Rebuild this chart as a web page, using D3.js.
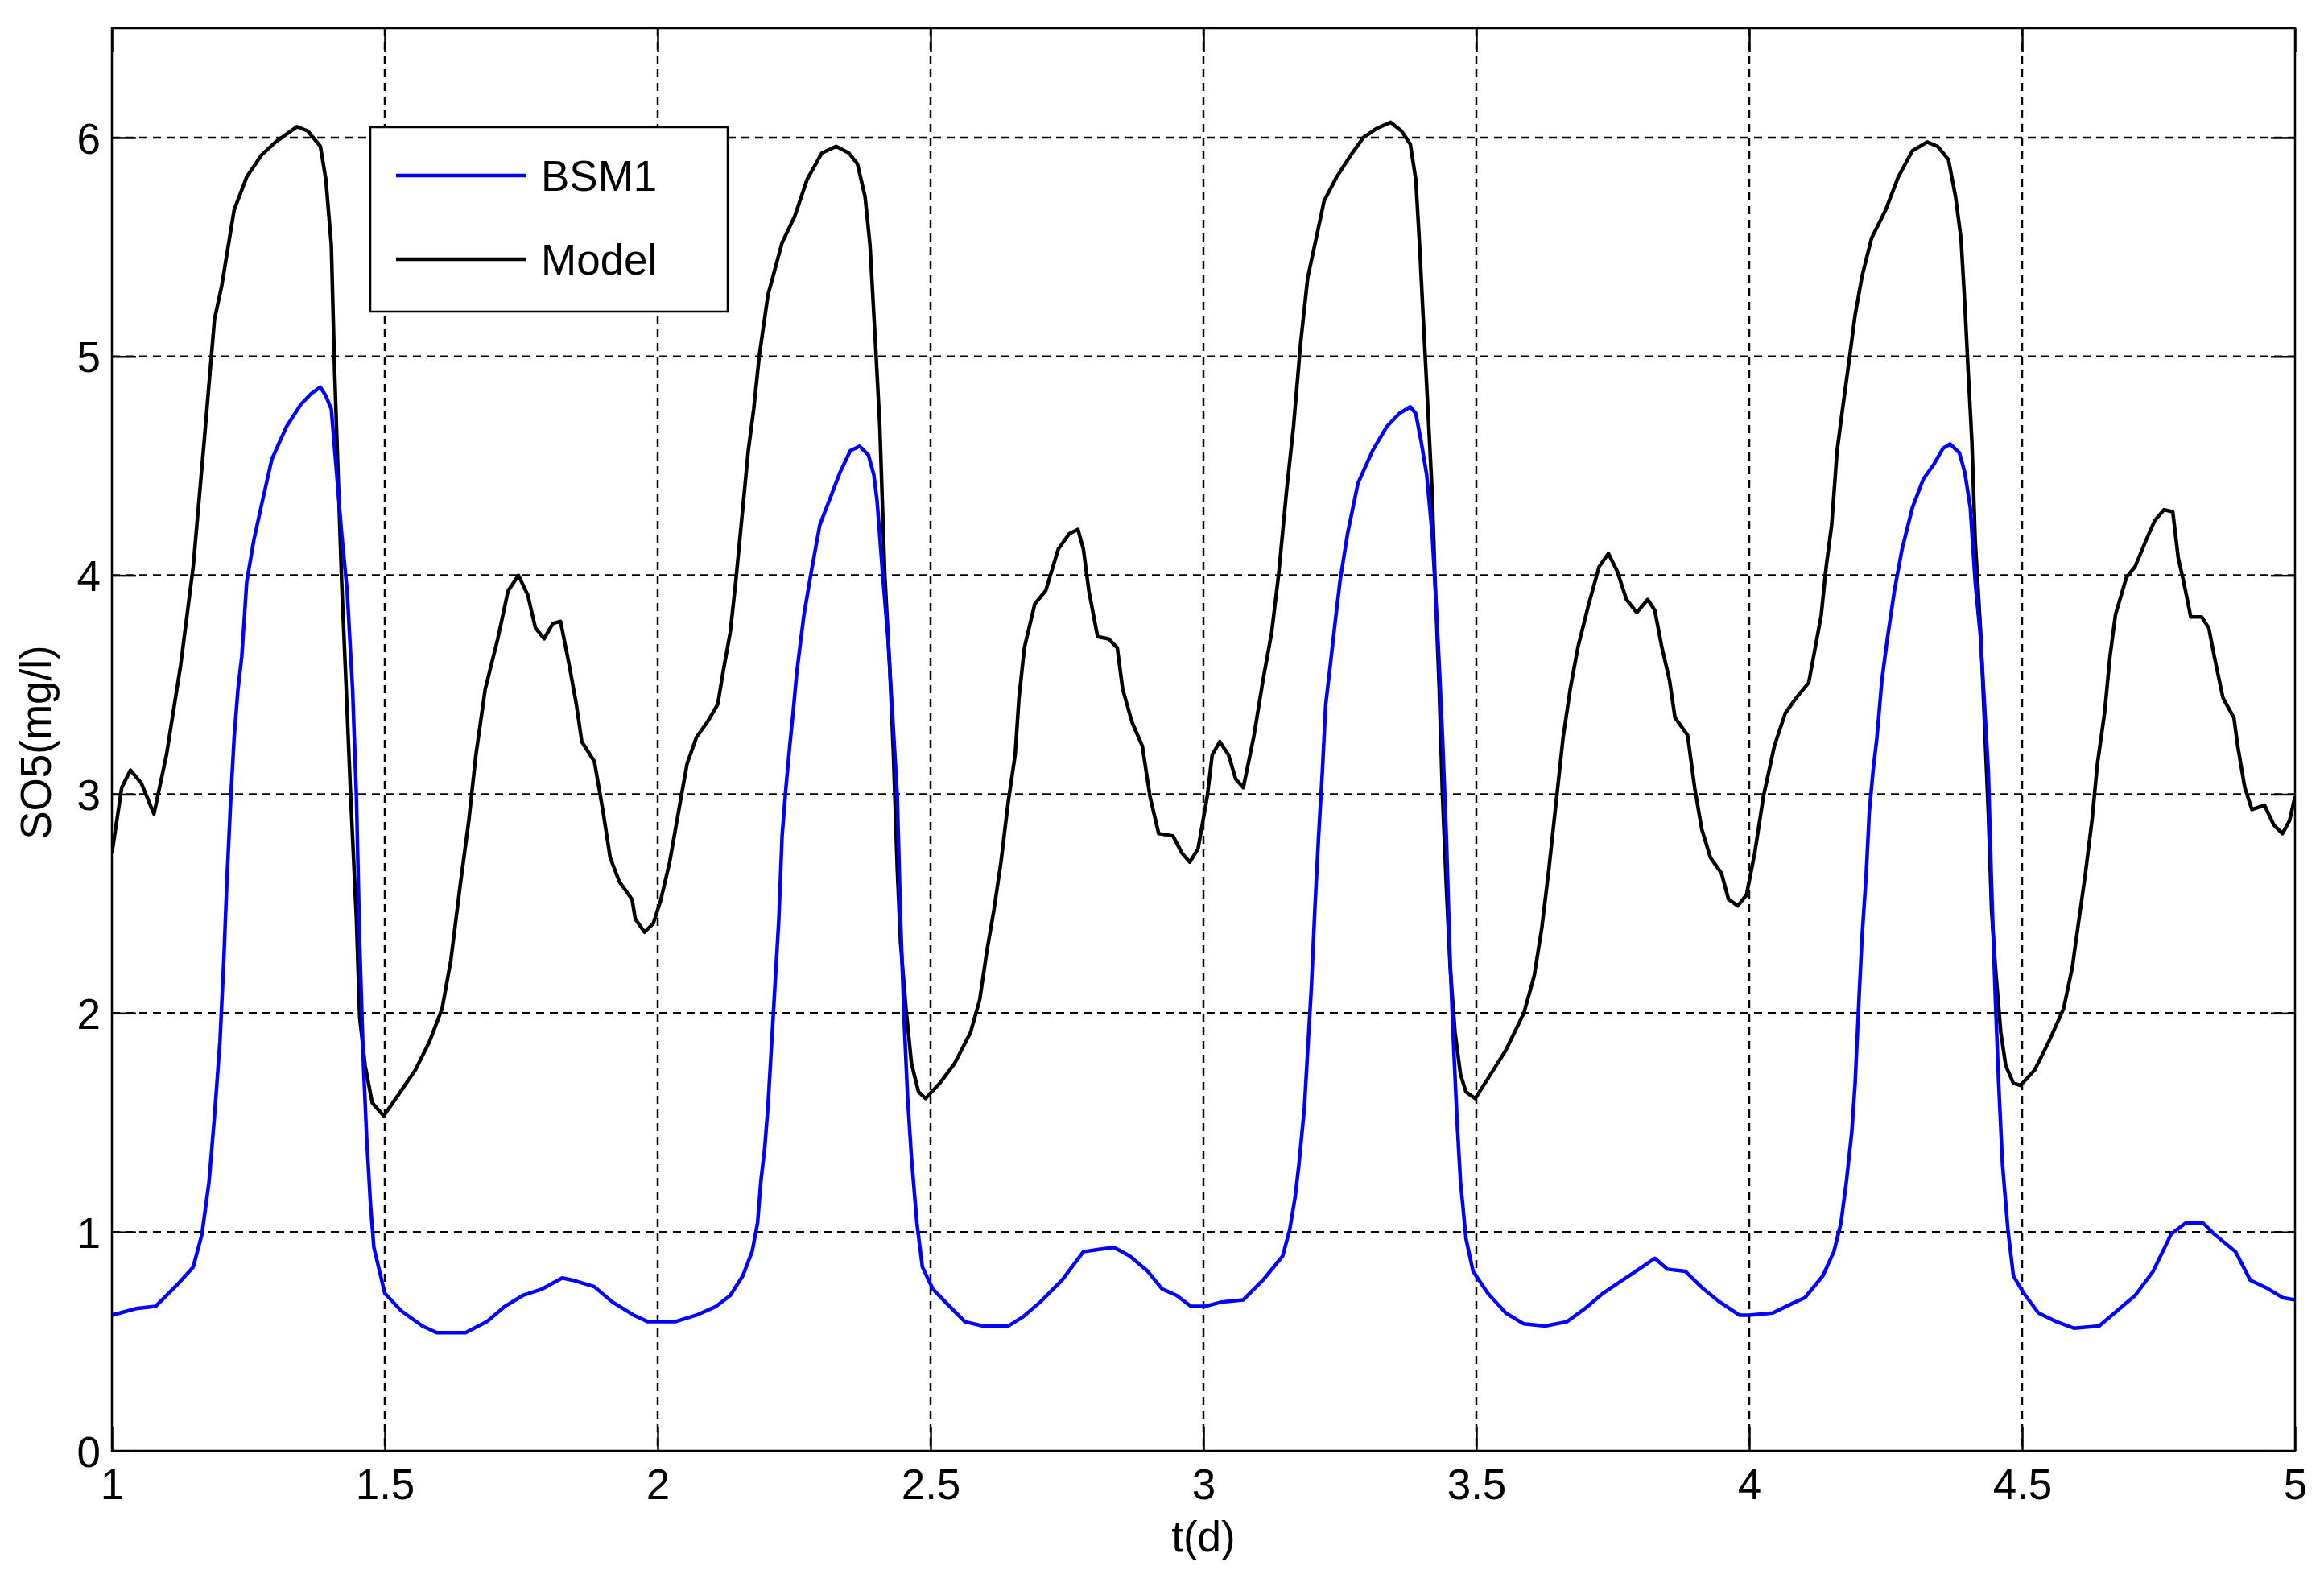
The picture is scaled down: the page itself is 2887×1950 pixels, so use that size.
<!DOCTYPE html>
<html>
<head>
<meta charset="utf-8">
<script src="https://cdn.jsdelivr.net/npm/d3@7"></script>
<style>
  html, body { margin: 0; padding: 0; background: #fff; }
  svg { display: block; }
  text { font-family: "Liberation Sans", Arial, Helvetica, sans-serif; fill: #000; }
</style>
</head>
<body>
<svg id="chart" width="2887" height="1950"></svg>
<script>
// ---------------- DATA ----------------
const seriesNames = ["BSM1", "Model"];
const xTicks = [1, 1.5, 2, 2.5, 3, 3.5, 4, 4.5, 5];
const yTicks = [0, 1, 2, 3, 4, 5, 6];
const xLabel = "t(d)";
const yLabel = "SO5(mg/l)";

// Model (black) : time in days / SO5 in mg/l
const tModel = [1.0,1.018,1.034,1.054,1.077,1.100,1.126,1.149,1.169,1.188,1.201,1.224,1.247,1.274,1.300,1.339,1.359,1.382,1.392,1.402,1.408,1.421,1.428,1.438,1.448,1.454,1.464,1.477,1.498,1.523,1.556,1.582,1.605,1.621,1.638,1.654,1.667,1.684,1.707,1.726,1.745,1.762,1.776,1.792,1.808,1.822,1.838,1.851,1.861,1.884,1.900,1.913,1.930,1.953,1.959,1.976,1.992,
  2.005,2.022,2.041,2.054,2.071,2.091,2.110,2.120,2.133,2.143,2.153,2.166,2.176,2.186,2.202,2.228,2.251,2.274,2.301,2.327,2.350,2.366,2.380,2.389,2.399,2.407,2.416,2.425,2.432,2.439,2.445,2.455,2.465,2.478,2.491,2.517,2.544,2.573,2.590,2.603,2.616,2.629,2.642,2.655,2.662,2.672,2.691,2.711,2.734,2.754,2.770,2.780,2.790,2.806,2.826,2.842,2.852,2.869,2.888,2.902,2.918,2.944,2.961,2.975,2.990,
  3.007,3.016,3.030,3.046,3.059,3.073,3.092,3.109,3.125,3.138,3.152,3.165,3.178,3.191,3.204,3.221,3.244,3.270,3.293,3.316,3.343,3.363,3.379,3.389,3.396,3.402,3.409,3.419,3.425,3.432,3.438,3.445,3.452,3.461,3.471,3.481,3.498,3.521,3.554,3.587,3.606,3.620,3.633,3.646,3.659,3.672,3.686,3.705,3.725,3.742,3.758,3.775,3.794,3.814,3.827,3.840,3.854,3.864,3.887,3.900,3.913,3.929,3.949,3.962,3.979,3.995,
  4.010,4.026,4.046,4.066,4.086,4.109,4.118,4.132,4.141,4.151,4.161,4.171,4.184,4.194,4.207,4.224,4.250,4.273,4.299,4.326,4.345,4.365,4.378,4.388,4.395,4.401,4.408,4.414,4.424,4.431,4.438,4.444,4.451,4.461,4.470,4.484,4.497,4.523,4.549,4.576,4.592,4.602,4.615,4.628,4.638,4.651,4.661,4.671,4.691,4.707,4.727,4.743,4.760,4.776,4.786,4.796,4.809,4.829,4.842,4.852,4.868,4.888,4.895,4.908,4.921,4.944,4.961,4.977,4.990,5.0];
const soModel = [2.73,3.03,3.11,3.05,2.91,3.18,3.59,4.04,4.61,5.17,5.32,5.67,5.82,5.92,5.98,6.05,6.03,5.96,5.81,5.51,4.94,3.97,3.56,2.96,2.43,1.98,1.76,1.59,1.53,1.62,1.74,1.87,2.02,2.24,2.58,2.88,3.18,3.48,3.71,3.93,4.0,3.91,3.76,3.71,3.78,3.79,3.59,3.41,3.24,3.15,2.92,2.71,2.60,2.52,2.43,2.37,2.41,
  2.51,2.69,2.96,3.14,3.26,3.33,3.41,3.56,3.74,3.97,4.23,4.57,4.76,5.0,5.28,5.52,5.64,5.81,5.93,5.96,5.93,5.88,5.73,5.51,5.06,4.68,4.01,3.59,3.18,2.66,2.32,2.02,1.77,1.64,1.61,1.68,1.77,1.91,2.06,2.28,2.47,2.69,2.96,3.18,3.44,3.67,3.87,3.93,4.12,4.19,4.21,4.12,3.93,3.72,3.71,3.67,3.48,3.33,3.22,2.99,2.82,2.81,2.73,2.69,2.75,
  2.99,3.18,3.24,3.18,3.07,3.03,3.26,3.52,3.74,4.01,4.38,4.68,5.06,5.36,5.51,5.71,5.82,5.92,6.0,6.04,6.07,6.03,5.97,5.81,5.51,5.21,4.87,4.38,3.93,3.48,2.99,2.58,2.21,1.91,1.72,1.64,1.61,1.70,1.83,2.0,2.17,2.39,2.66,2.96,3.26,3.48,3.67,3.86,4.04,4.10,4.02,3.89,3.83,3.89,3.84,3.67,3.52,3.35,3.27,3.03,2.84,2.71,2.64,2.52,2.49,2.54,
  2.73,2.99,3.22,3.37,3.44,3.51,3.63,3.82,4.04,4.23,4.57,4.76,5.0,5.19,5.37,5.54,5.67,5.82,5.94,5.98,5.96,5.90,5.73,5.54,5.24,4.94,4.61,4.16,3.74,3.33,2.92,2.47,2.21,1.91,1.76,1.68,1.67,1.74,1.87,2.02,2.21,2.39,2.62,2.88,3.14,3.37,3.63,3.82,3.99,4.04,4.16,4.25,4.30,4.29,4.08,3.97,3.81,3.81,3.76,3.63,3.44,3.35,3.22,3.03,2.93,2.95,2.86,2.82,2.88,2.99];

// BSM1 (blue)
const tBSM1 = [1.0,1.044,1.080,1.120,1.149,1.165,1.178,1.188,1.198,1.205,1.211,1.218,1.224,1.231,1.238,1.247,1.260,1.274,1.293,1.320,1.346,1.365,1.382,1.392,1.402,1.411,1.421,1.431,1.441,1.448,1.454,1.461,1.467,1.474,1.480,1.500,1.530,1.569,1.595,1.648,1.687,1.720,1.753,1.789,1.825,1.844,1.884,1.917,1.956,1.982,
  2.032,2.071,2.107,2.133,2.156,2.173,2.183,2.189,2.196,2.202,2.209,2.215,2.222,2.228,2.235,2.242,2.248,2.255,2.268,2.281,2.297,2.314,2.334,2.353,2.370,2.386,2.396,2.402,2.412,2.422,2.432,2.439,2.445,2.452,2.458,2.465,2.475,2.485,2.504,2.531,2.563,2.596,2.642,2.668,2.701,2.741,2.780,2.806,2.836,2.865,2.898,2.924,2.951,2.977,
  3.003,3.033,3.073,3.109,3.145,3.158,3.168,3.175,3.185,3.191,3.198,3.204,3.211,3.218,3.224,3.231,3.241,3.250,3.264,3.283,3.310,3.336,3.359,3.379,3.389,3.399,3.409,3.419,3.425,3.432,3.438,3.445,3.452,3.458,3.465,3.471,3.481,3.494,3.521,3.554,3.587,3.626,3.666,3.699,3.732,3.768,3.804,3.827,3.850,3.883,3.916,3.946,3.982,
  4.0,4.043,4.076,4.102,4.135,4.155,4.168,4.178,4.188,4.194,4.201,4.207,4.214,4.220,4.227,4.234,4.243,4.253,4.266,4.280,4.299,4.319,4.339,4.355,4.368,4.385,4.395,4.405,4.414,4.424,4.431,4.438,4.444,4.451,4.457,4.464,4.474,4.484,4.503,4.530,4.563,4.595,4.641,4.674,4.707,4.740,4.773,4.799,4.832,4.852,4.891,4.918,4.951,4.977,5.0];
const soBSM1 = [0.62,0.65,0.66,0.76,0.84,0.99,1.23,1.53,1.87,2.24,2.62,2.99,3.26,3.48,3.63,3.97,4.16,4.32,4.53,4.68,4.78,4.83,4.86,4.82,4.76,4.49,4.19,3.93,3.48,2.99,2.32,1.76,1.42,1.12,0.93,0.72,0.64,0.57,0.54,0.54,0.59,0.66,0.71,0.74,0.79,0.78,0.75,0.68,0.62,0.59,
  0.59,0.62,0.66,0.71,0.80,0.91,1.04,1.23,1.38,1.57,1.87,2.13,2.43,2.81,3.03,3.22,3.37,3.56,3.82,4.01,4.23,4.34,4.47,4.57,4.59,4.55,4.46,4.34,4.01,3.71,3.29,2.99,2.43,1.94,1.61,1.34,1.04,0.84,0.74,0.67,0.59,0.57,0.57,0.61,0.68,0.78,0.91,0.92,0.93,0.89,0.82,0.74,0.71,0.66,
  0.66,0.68,0.69,0.78,0.89,1.01,1.16,1.31,1.57,1.83,2.13,2.47,2.81,3.11,3.41,3.56,3.78,3.97,4.19,4.42,4.57,4.68,4.74,4.77,4.74,4.61,4.46,4.19,3.93,3.59,3.26,2.81,2.24,1.87,1.49,1.23,0.97,0.82,0.72,0.63,0.58,0.57,0.59,0.65,0.72,0.78,0.84,0.88,0.83,0.82,0.74,0.68,0.62,
  0.62,0.63,0.67,0.70,0.80,0.91,1.04,1.23,1.46,1.68,2.06,2.36,2.62,2.92,3.11,3.26,3.52,3.71,3.93,4.12,4.31,4.44,4.51,4.58,4.60,4.56,4.47,4.31,3.97,3.71,3.41,3.11,2.58,2.06,1.68,1.31,1.01,0.80,0.72,0.63,0.59,0.56,0.57,0.64,0.71,0.82,0.99,1.04,1.04,0.99,0.91,0.78,0.74,0.70,0.69];

// ---------------- LAYOUT ----------------
const W = 2887, H = 1950;
const margin = { left: 139, right: 36, top: 35, bottom: 148 };
const iw = W - margin.left - margin.right;
const ih = H - margin.top - margin.bottom;
const FS = 53;

const svg = d3.select("#chart");
const g = svg.append("g").attr("transform", `translate(${margin.left},${margin.top})`);

const x = d3.scaleLinear().domain([1, 5]).range([0, iw]);
const y = d3.scaleLinear().domain([0, 6.5]).range([ih, 0]);

// grid lines
const grid = g.append("g").attr("class", "grid");
grid.selectAll("line.vg").data(xTicks.slice(1, -1)).enter().append("line")
  .attr("x1", d => x(d)).attr("x2", d => x(d)).attr("y1", 0).attr("y2", ih)
  .attr("stroke", "#000").attr("stroke-width", 2.5).attr("stroke-dasharray", "10,7");
grid.selectAll("line.hg").data(yTicks.slice(1)).enter().append("line")
  .attr("y1", d => y(d)).attr("y2", d => y(d)).attr("x1", 0).attr("x2", iw)
  .attr("stroke", "#000").attr("stroke-width", 2.5).attr("stroke-dasharray", "10,7");

// data lines
const clip = svg.append("defs").append("clipPath").attr("id", "clip");
clip.append("rect").attr("x", 0).attr("y", 0).attr("width", iw).attr("height", ih);

const line = d3.line().x(d => x(d[0])).y(d => y(d[1]));
const model = tModel.map((t, i) => [t, soModel[i]]);
const bsm1 = tBSM1.map((t, i) => [t, soBSM1[i]]);

const lines = g.append("g").attr("clip-path", "url(#clip)");
lines.append("path").datum(model).attr("d", line)
  .attr("fill", "none").attr("stroke", "#000").attr("stroke-width", 4.5).attr("stroke-linejoin", "round");
lines.append("path").datum(bsm1).attr("d", line)
  .attr("fill", "none").attr("stroke", "#0000ff").attr("stroke-width", 4.5).attr("stroke-linejoin", "round");

// axes (ticks inside)
const tickLen = 30;
const xAxisB = d3.axisBottom(x).tickValues(xTicks).tickSize(-tickLen).tickFormat(d3.format("~g"));
const xAxisT = d3.axisTop(x).tickValues(xTicks).tickSize(-tickLen).tickFormat("");
const yAxisL = d3.axisLeft(y).tickValues(yTicks).tickSize(-tickLen).tickPadding(14).tickFormat(d3.format("~g"));
const yAxisR = d3.axisRight(y).tickValues(yTicks).tickSize(-tickLen).tickFormat("");

const gxB = g.append("g").attr("transform", `translate(0,${ih})`).call(xAxisB);
const gxT = g.append("g").call(xAxisT);
const gyL = g.append("g").call(yAxisL);
const gyR = g.append("g").attr("transform", `translate(${iw},0)`).call(yAxisR);

[gxB, gxT, gyL, gyR].forEach(a => {
  a.select(".domain").remove();
  a.selectAll(".tick line").attr("stroke", "#000").attr("stroke-width", 2.5);
  a.selectAll("text").attr("font-size", FS).attr("font-family", "Liberation Sans, Arial, sans-serif").attr("fill", "#000");
});
gxB.selectAll(".tick text").attr("dy", null).attr("y", 60);
gyL.selectAll(".tick text").attr("dy", "0.36em");

// frame
g.append("rect").attr("x", 0).attr("y", 0).attr("width", iw).attr("height", ih)
  .attr("fill", "none").attr("stroke", "#000").attr("stroke-width", 2.5);

// axis labels
svg.append("text").attr("x", margin.left + x(3)).attr("y", 1927)
  .attr("text-anchor", "middle").attr("font-size", FS).text(xLabel);
svg.append("text").attr("transform", `translate(63,922) rotate(-90)`)
  .attr("text-anchor", "middle").attr("font-size", FS).text(yLabel);

// legend
const leg = svg.append("g");
leg.append("rect").attr("x", 460).attr("y", 158).attr("width", 444).attr("height", 229)
  .attr("fill", "#fff").attr("stroke", "#000").attr("stroke-width", 2.5);
const legColors = ["#0000ff", "#000"];
const legY = [218, 322];
seriesNames.forEach((name, i) => {
  leg.append("line").attr("x1", 492).attr("x2", 653).attr("y1", legY[i]).attr("y2", legY[i])
    .attr("stroke", legColors[i]).attr("stroke-width", 4.5);
  leg.append("text").attr("x", 672).attr("y", legY[i]).attr("dy", "0.36em")
    .attr("font-size", FS).text(name);
});
</script>
</body>
</html>
